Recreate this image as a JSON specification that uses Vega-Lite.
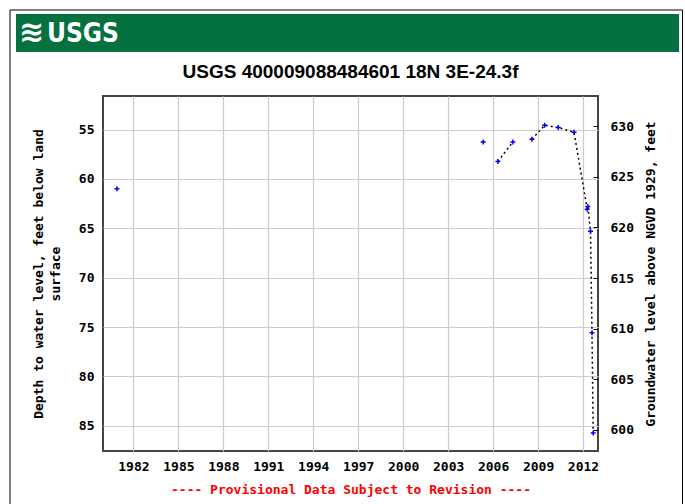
{
  "$schema": "https://vega.github.io/schema/vega-lite/v6.json",
  "background": "white",
  "padding": {"left": 9, "top": 9, "right": 3, "bottom": 0},
  "datasets": {
    "header": [{"icon": "≋", "label": "USGS"}],
    "wells": [
      {"year": 1980.9, "depth": 61.0, "level": 623.7, "seg": "a"},
      {"year": 2005.34, "depth": 56.25, "level": 628.45, "seg": "b"},
      {"year": 2006.32, "depth": 58.24, "level": 626.46, "seg": "c"},
      {"year": 2007.32, "depth": 56.25, "level": 628.45, "seg": "c"},
      {"year": 2008.59, "depth": 55.98, "level": 628.72, "seg": "d"},
      {"year": 2009.44, "depth": 54.57, "level": 630.13, "seg": "d"},
      {"year": 2010.35, "depth": 54.8, "level": 629.9, "seg": "d"},
      {"year": 2011.4, "depth": 55.27, "level": 629.43, "seg": "d"},
      {"year": 2012.28, "depth": 63.06, "level": 621.64, "seg": "d"},
      {"year": 2012.32, "depth": 62.8, "level": 621.9, "seg": "d"},
      {"year": 2012.5, "depth": 65.3, "level": 619.4, "seg": "d"},
      {"year": 2012.6, "depth": 75.57, "level": 609.13, "seg": "d"},
      {"year": 2012.68, "depth": 85.74, "level": 598.96, "seg": "d"}
    ]
  },
  "bounds": "flush",
  "spacing": 44,
  "vconcat": [
    {
      "width": 495,
      "height": 38,
      "view": {"fill": null, "stroke": null},
      "data": {"name": "header"},
      "layer": [
        {
          "mark": {"type": "rect", "color": "#04713F"},
          "encoding": {
            "x": {"datum": -87, "type": "quantitative", "scale": {"domain": [0, 495], "nice": false, "zero": false}, "axis": null},
            "x2": {"datum": 576},
            "y": {"datum": 0, "type": "quantitative", "scale": {"domain": [0, 38], "reverse": true, "nice": false, "zero": false}, "axis": null},
            "y2": {"datum": 38}
          }
        },
        {
          "mark": {"type": "rule", "color": "black", "strokeWidth": 1},
          "encoding": {
            "x": {"datum": -93, "type": "quantitative"},
            "y": {"datum": -4, "type": "quantitative"},
            "y2": {"datum": 490}
          }
        },
        {
          "mark": {"type": "rule", "color": "black", "strokeWidth": 1},
          "encoding": {
            "x": {"datum": 579.5, "type": "quantitative"},
            "y": {"datum": -4, "type": "quantitative"},
            "y2": {"datum": 490}
          }
        },
        {
          "mark": {"type": "rule", "color": "black", "strokeWidth": 1},
          "encoding": {
            "x": {"datum": -93, "type": "quantitative"},
            "x2": {"datum": 579.5},
            "y": {"datum": -4, "type": "quantitative"}
          }
        },
        {
          "mark": {"type": "text", "align": "left", "baseline": "middle", "font": "DejaVu Sans", "fontWeight": "bold", "fontSize": 30, "color": "white"},
          "encoding": {
            "x": {"datum": -84, "type": "quantitative"},
            "y": {"datum": 19, "type": "quantitative"},
            "text": {"field": "icon"}
          }
        },
        {
          "mark": {"type": "text", "align": "left", "baseline": "middle", "font": "DejaVu Sans Condensed", "fontWeight": "bold", "fontSize": 26, "color": "white"},
          "encoding": {
            "x": {"datum": -56, "type": "quantitative"},
            "y": {"datum": 20, "type": "quantitative"},
            "text": {"field": "label"}
          }
        }
      ]
    },
    {
      "width": 495,
      "height": 355,
      "title": {"text": "USGS 400009088484601 18N 3E-24.3f", "font": "Liberation Sans", "fontSize": 19, "fontWeight": "bold", "color": "black", "offset": 14},
      "data": {"name": "wells"},
      "encoding": {
        "x": {
          "field": "year",
          "type": "quantitative",
          "scale": {"domain": [1979.97, 2013.0], "nice": false, "zero": false},
          "axis": {
            "values": [1982, 1985, 1988, 1991, 1994, 1997, 2000, 2003, 2006, 2009, 2012],
            "format": "d",
            "grid": true,
            "labelPadding": 9,
            "title": "---- Provisional Data Subject to Revision ----",
            "titleColor": "#ff0000",
            "titlePadding": 10
          }
        }
      },
      "layer": [
        {
          "encoding": {
            "y": {
              "field": "depth",
              "type": "quantitative",
              "scale": {"domain": [51.6, 87.56], "reverse": true, "nice": false, "zero": false},
              "axis": {
                "values": [55, 60, 65, 70, 75, 80, 85],
                "grid": true,
                "labelPadding": 9,
                "title": ["Depth to water level, feet below land", "surface"],
                "titleLineHeight": 17,
                "titlePadding": 16
              }
            }
          },
          "layer": [
            {
              "mark": {"type": "line", "color": "black", "strokeDash": [2, 3], "strokeWidth": 1.5},
              "encoding": {"detail": {"field": "seg"}}
            },
            {
              "mark": {"type": "point", "shape": "M-1,0H1M0,-1V1", "filled": false, "color": "#0000ff", "strokeWidth": 1.5, "size": 25, "opacity": 1}
            }
          ]
        },
        {
          "mark": {"type": "point", "opacity": 0},
          "encoding": {
            "y": {
              "field": "level",
              "type": "quantitative",
              "scale": {"domain": [597.9, 633.0], "nice": false, "zero": false},
              "axis": {
                "orient": "right",
                "values": [600, 605, 610, 615, 620, 625, 630],
                "grid": false,
                "ticks": true,
                "tickSize": -5,
                "tickColor": "black",
                "tickWidth": 1,
                "labelPadding": 17,
                "title": "Groundwater level above NGVD 1929, feet",
                "titleAngle": 270,
                "titlePadding": 24
              }
            }
          }
        }
      ],
      "resolve": {"scale": {"y": "independent"}}
    }
  ],
  "config": {
    "view": {"stroke": "#444444", "strokeWidth": 2},
    "axis": {
      "domain": false,
      "ticks": false,
      "gridColor": "#cccccc",
      "gridWidth": 1.2,
      "labelFont": "DejaVu Sans Mono",
      "labelFontWeight": "bold",
      "labelFontSize": 13,
      "labelColor": "black",
      "titleFont": "DejaVu Sans Mono",
      "titleFontWeight": "bold",
      "titleFontSize": 13,
      "titleColor": "black"
    }
  }
}
